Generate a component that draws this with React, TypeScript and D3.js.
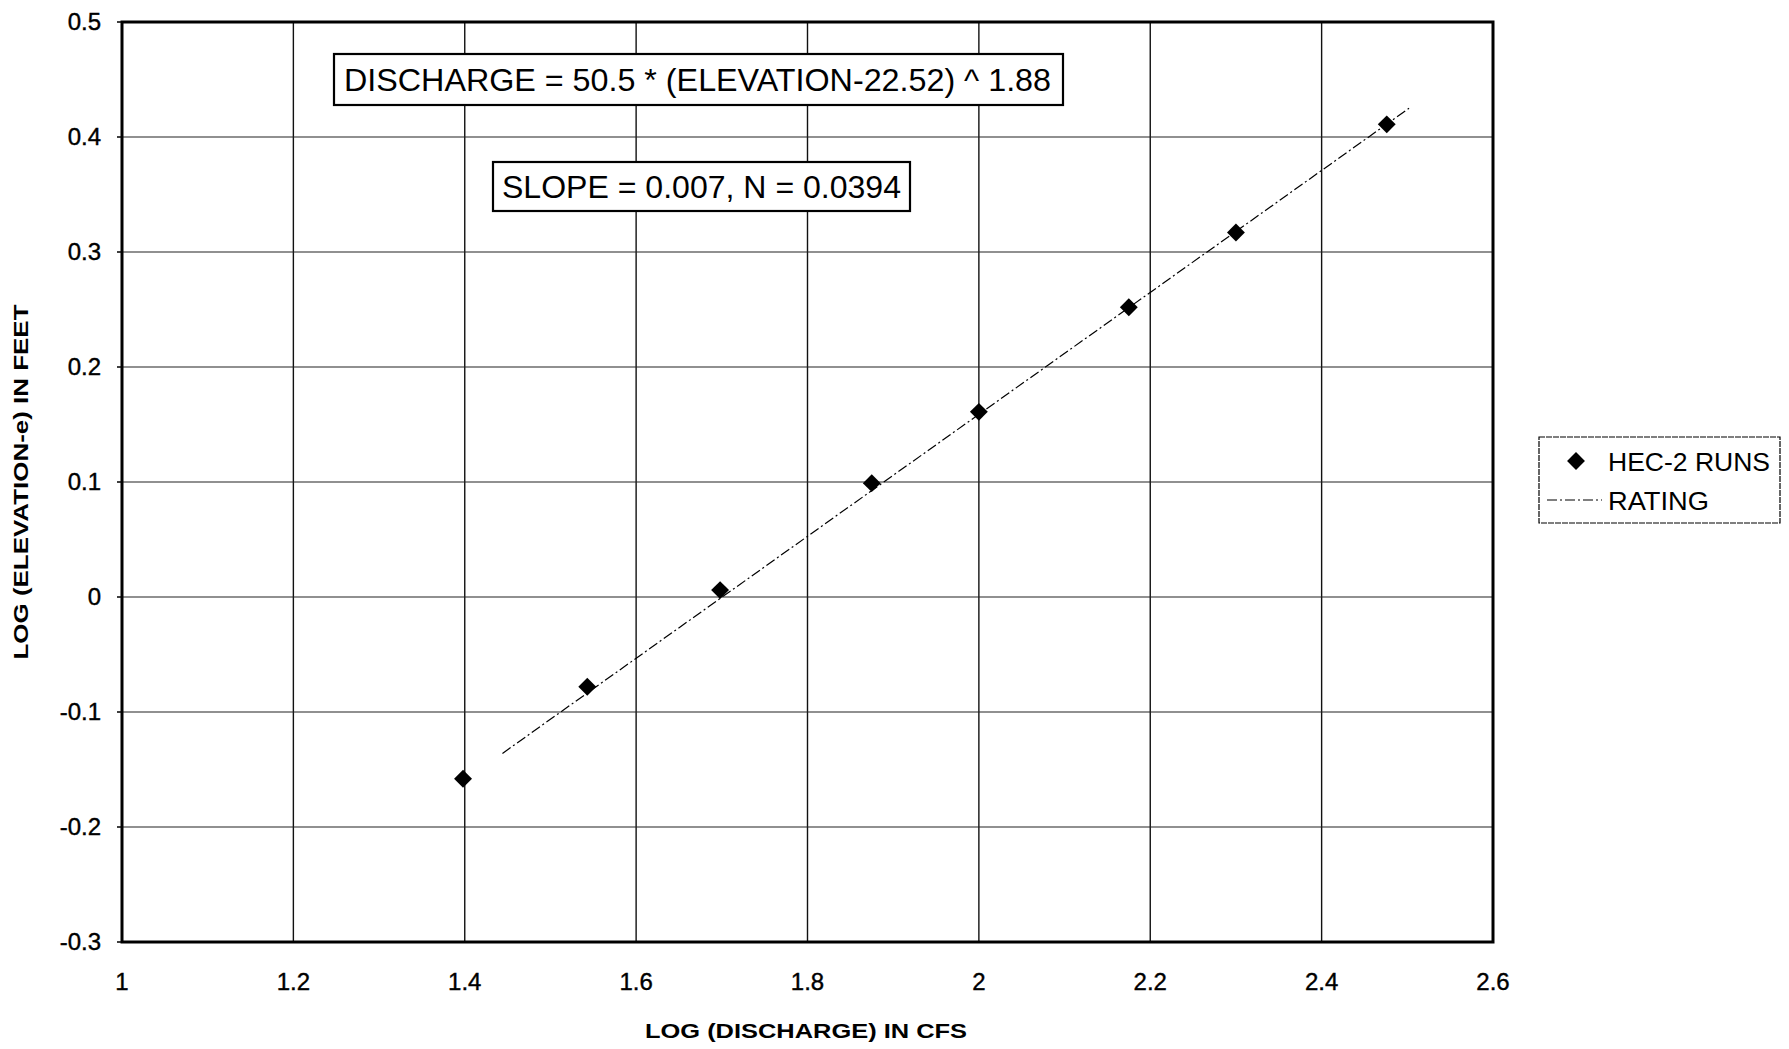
import React from "react";
import * as d3 from "d3";

const logQ = [1.398, 1.543, 1.698, 1.875, 2.0, 2.175, 2.3, 2.476];
const logH = [-0.158, -0.078, 0.006, 0.099, 0.161, 0.252, 0.317, 0.411];
const ratingQ = [1.444, 2.502];
const ratingH = [-0.136, 0.425];
const xTicks = [1, 1.2, 1.4, 1.6, 1.8, 2, 2.2, 2.4, 2.6];
const yTicks = [0.5, 0.4, 0.3, 0.2, 0.1, 0, -0.1, -0.2, -0.3];
const eqText = "DISCHARGE = 50.5 * (ELEVATION-22.52) ^ 1.88";
const slopeText = "SLOPE = 0.007, N = 0.0394";
const xTitle = "LOG (DISCHARGE) IN CFS";
const yTitle = "LOG (ELEVATION-e) IN FEET";
const legendLabels = ["HEC-2 RUNS", "RATING"];

const W = 1789, H = 1049;
const L = 122, R = 1493, T = 22, B = 942;
const FONT = "'Liberation Sans', Arial, sans-serif";

export default function App() {
  const x = d3.scaleLinear().domain([1, 2.6]).range([L, R]);
  const y = d3.scaleLinear().domain([-0.3, 0.5]).range([B, T]);
  const diamond = d3.symbol().type(d3.symbolSquare).size(160)()!;
  const line = d3.line<number>().x((_, i) => x(ratingQ[i])).y((_, i) => y(ratingH[i]));
  const fmt = (v: number) => (Math.abs(v) < 1e-9 ? "0" : String(+v.toFixed(1)));
  return (
    <svg width={W} height={H} style={{ position: "absolute", left: 0, top: 0, background: "#fff" }}>
      <rect x={0} y={0} width={W} height={H} fill="#fff" />
      {xTicks.slice(1, -1).map((t) => (
        <line key={"gx" + t} x1={x(t)} x2={x(t)} y1={T} y2={B} stroke="#111" strokeWidth={1.4} />
      ))}
      {yTicks.slice(1, -1).map((t) => (
        <line key={"gy" + t} x1={L} x2={R} y1={y(t)} y2={y(t)} stroke="#222" strokeWidth={1.2} />
      ))}
      <rect x={L} y={T} width={R - L} height={B - T} fill="none" stroke="#000" strokeWidth={3} />
      {yTicks.map((t) => (
        <g key={"ty" + t}>
          <line x1={L - 5} x2={L} y1={y(t)} y2={y(t)} stroke="#000" strokeWidth={1.5} />
          <text x={L - 21} y={y(t)} dy="0.35em" textAnchor="end" fontFamily={FONT} fontSize={24} fill="#000" stroke="#000" strokeWidth={0.4}>
            {fmt(t)}
          </text>
        </g>
      ))}
      {xTicks.map((t) => (
        <text key={"tx" + t} x={x(t)} y={B + 48} textAnchor="middle" fontFamily={FONT} fontSize={24} fill="#000" stroke="#000" strokeWidth={0.4}>
          {fmt(t)}
        </text>
      ))}
      <text x={806} y={1038} textAnchor="middle" fontFamily={FONT} fontSize={21} fontWeight="bold" textLength={322} lengthAdjust="spacingAndGlyphs">
        {xTitle}
      </text>
      <text transform={`translate(28,${(T + B) / 2}) rotate(-90)`} textAnchor="middle" fontFamily={FONT} fontSize={21} fontWeight="bold" textLength={355} lengthAdjust="spacingAndGlyphs">
        {yTitle}
      </text>
      <path d={line(ratingQ) || ""} fill="none" stroke="#000" strokeWidth={1.2} strokeDasharray="10 3 2 3" />
      {logQ.map((q, i) => (
        <path key={"p" + i} d={diamond} transform={`translate(${x(q)},${y(logH[i])}) rotate(45)`} fill="#000" />
      ))}
      <rect x={334} y={54} width={729} height={51} fill="#fff" stroke="#000" strokeWidth={2.2} />
      <text x={344} y={91} fontFamily={FONT} fontSize={31} textLength={707} lengthAdjust="spacingAndGlyphs">
        {eqText}
      </text>
      <rect x={493} y={162} width={417} height={49} fill="#fff" stroke="#000" strokeWidth={2.2} />
      <text x={502} y={198} fontFamily={FONT} fontSize={31} textLength={399} lengthAdjust="spacingAndGlyphs">
        {slopeText}
      </text>
      <rect x={1539} y={437} width={241} height={86} fill="#fff" stroke="#000" strokeWidth={1.2} strokeDasharray="6 1" />
      <path d={diamond} transform="translate(1576,461) rotate(45)" fill="#000" />
      <text x={1608} y={471} fontFamily={FONT} fontSize={25} textLength={162} lengthAdjust="spacingAndGlyphs">{legendLabels[0]}</text>
      <line x1={1547} x2={1602} y1={500} y2={500} stroke="#000" strokeWidth={1.2} strokeDasharray="10 3 2 3" />
      <text x={1608} y={510} fontFamily={FONT} fontSize={25} textLength={101} lengthAdjust="spacingAndGlyphs">{legendLabels[1]}</text>
    </svg>
  );
}
